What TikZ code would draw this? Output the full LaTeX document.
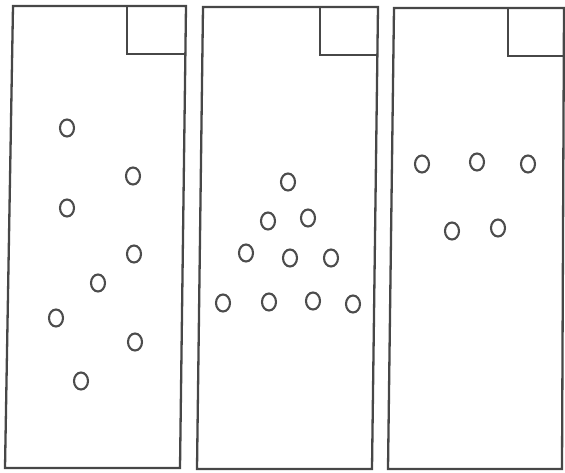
\documentclass[tikz,border=0pt]{standalone}
\usetikzlibrary{shapes.geometric}
\begin{document}
\begin{tikzpicture}[x=1pt,y=-1pt,
  panel/.style={draw=black!72,line width=2.3pt,line join=miter},
  bead/.style={draw=black!70,line width=2.1pt,ellipse,inner sep=0pt,minimum width=14pt,minimum height=17pt},
]
\useasboundingbox (0,0) rectangle (565,473);
% panels (slightly skewed, as scanned)
\draw[panel] (13,6) -- (186,6) -- (180,468) -- (5,468) -- cycle;
\draw[panel] (127,6) -- (127,54) -- (185.4,54);
\draw[panel] (203,7) -- (378,7) -- (372,469) -- (197,469) -- cycle;
\draw[panel] (320,7) -- (320,55) -- (377.4,55);
\draw[panel] (394,8) -- (564,8) -- (562,469) -- (388,469) -- cycle;
\draw[panel] (508,8) -- (508,56) -- (563.8,56);
% panel 1 beads
\foreach \p [count=\i] in {(67,128),(133,176),(67,208),(134,254),(98,283),(56,318),(135,342),(81,381)}
  \node[bead] (a\i) at \p {};
% panel 2 beads
\foreach \p [count=\i] in {(288,182),(268,221),(308,218),(246,253),(290,258),(331,258),(223,303),(269,302),(313,301),(353,304)}
  \node[bead] (b\i) at \p {};
% panel 3 beads
\foreach \p [count=\i] in {(422,164),(477,162),(528,164),(452,231),(498,228)}
  \node[bead] (c\i) at \p {};
\end{tikzpicture}
\end{document}
